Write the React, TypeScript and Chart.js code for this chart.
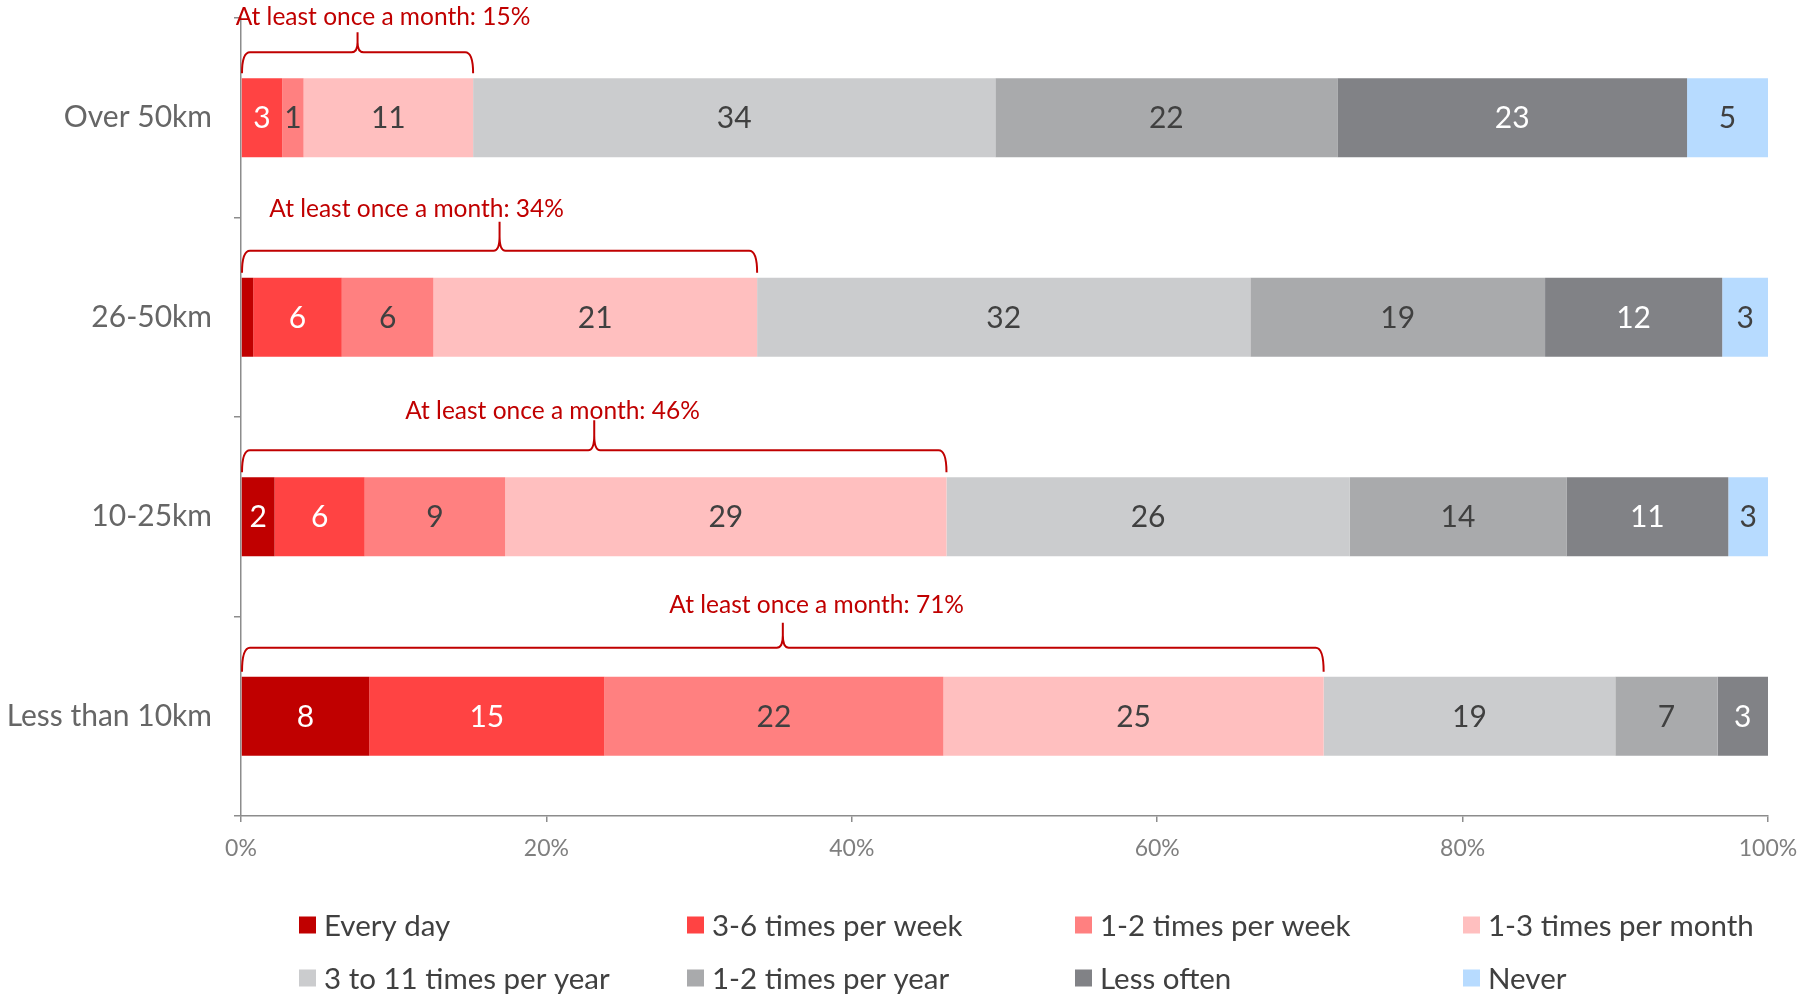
import { useEffect, useRef } from "react";
import { Chart, registerables } from "chart.js";

Chart.register(...registerables);

// ---------- data ----------
const categories = ["Over 50km", "26-50km", "10-25km", "Less than 10km"];
const seriesNames = [
  "Every day",
  "3-6 times per week",
  "1-2 times per week",
  "1-3 times per month",
  "3 to 11 times per year",
  "1-2 times per year",
  "Less often",
  "Never",
];
const everyDay = [0, 0.8, 2.2, 8.4];
const weekly36 = [2.7, 5.8, 5.9, 15.4];
const weekly12 = [1.4, 6.0, 9.2, 22.2];
const monthly13 = [11.1, 21.2, 28.9, 24.9];
const yearly311 = [34.2, 32.3, 26.4, 19.1];
const yearly12 = [22.4, 19.3, 14.2, 6.7];
const lessOften = [22.9, 11.6, 10.6, 3.3];
const never = [5.3, 3.0, 2.6, 0];
const seriesValues = [everyDay, weekly36, weekly12, monthly13, yearly311, yearly12, lessOften, never];
const xTickValues = [0, 20, 40, 60, 80, 100];
const monthlySeriesCount = 4; // first four series = at least once a month
const annotationPrefix = "At least once a month: ";

// ---------- styles ----------
const FONT = "Lato, 'Open Sans', sans-serif";
const seriesColors = ["#C00000", "#FF4343", "#FF8080", "#FFBFBF", "#CBCCCE", "#A9AAAC", "#818286", "#B7DBFF"];
const labelColors = ["#FFFFFF", "#FFFFFF", "#404040", "#404040", "#404040", "#404040", "#FFFFFF", "#404040"];
const braceColor = "#C00000";
// per-category annotation layout (pixels above bar top, and label centre in axis %)
const braceLabelCenter = [9.3, 11.5, 20.4, 37.7];
const braceLabelRise = [61, 69, 66, 72];
const braceLineRise = [26, 27, 27, 29];
const braceTipRise = [46, 56, 57, 54];
const braceEndRise = 5;

const dataLabelPlugin = {
  id: "dataLabels",
  afterDatasetsDraw(chart: any) {
    const ctx = chart.ctx;
    ctx.save();
    ctx.font = `30px ${FONT}`;
    ctx.textAlign = "center";
    ctx.textBaseline = "middle";
    chart.data.datasets.forEach((ds: any, i: number) => {
      const meta = chart.getDatasetMeta(i);
      meta.data.forEach((bar: any, j: number) => {
        const v = ds.data[j];
        if (v < 1) return;
        const p = bar.getProps(["x", "y", "base"], true);
        ctx.fillStyle = labelColors[i];
        ctx.fillText(String(Math.round(v)), (p.x + p.base) / 2, p.y + 1);
      });
    });
    ctx.restore();
  },
};

const bracePlugin = {
  id: "braces",
  afterDraw(chart: any) {
    const ctx = chart.ctx;
    const xs = chart.scales.x;
    const meta0 = chart.getDatasetMeta(0);
    ctx.save();
    categories.forEach((_c, j) => {
      let total = 0;
      for (let i = 0; i < monthlySeriesCount; i++) total += chart.data.datasets[i].data[j];
      const bar = meta0.data[j].getProps(["y", "height"], true);
      const top = bar.y - bar.height / 2;
      const x0 = xs.getPixelForValue(0) + 1;
      const x1 = xs.getPixelForValue(total);
      const xm = (x0 + x1) / 2;
      const yEnd = top - braceEndRise;
      const yLine = top - braceLineRise[j];
      const yTip = top - braceTipRise[j];
      const r = 8;
      const r2 = 6;
      const yMid = yLine - (yLine - yTip) * 0.5;
      ctx.strokeStyle = braceColor;
      ctx.lineWidth = 2;
      ctx.beginPath();
      ctx.moveTo(x0, yEnd);
      ctx.quadraticCurveTo(x0, yLine, x0 + r, yLine);
      ctx.lineTo(xm - r2, yLine);
      ctx.quadraticCurveTo(xm, yLine, xm, yMid);
      ctx.lineTo(xm, yTip);
      ctx.moveTo(xm, yMid);
      ctx.quadraticCurveTo(xm, yLine, xm + r2, yLine);
      ctx.lineTo(x1 - r, yLine);
      ctx.quadraticCurveTo(x1, yLine, x1, yEnd);
      ctx.stroke();
      ctx.fillStyle = braceColor;
      ctx.font = `24.5px ${FONT}`;
      ctx.textAlign = "center";
      ctx.textBaseline = "middle";
      ctx.fillText(annotationPrefix + Math.round(total) + "%", xs.getPixelForValue(braceLabelCenter[j]), top - braceLabelRise[j]);
    });
    ctx.restore();
  },
};

const legendPlugin = {
  id: "gridLegend",
  afterDraw(chart: any) {
    const ctx = chart.ctx;
    const left = chart.chartArea.left;
    const colStart = left + 58;
    const colStep = 388;
    const rowY = [925, 978];
    const box = 17;
    ctx.save();
    ctx.font = `29.5px ${FONT}`;
    ctx.textBaseline = "middle";
    ctx.textAlign = "left";
    chart.data.datasets.forEach((ds: any, i: number) => {
      const col = i % 4;
      const row = Math.floor(i / 4);
      const x = colStart + col * colStep;
      const y = rowY[row];
      ctx.fillStyle = ds.backgroundColor;
      ctx.fillRect(x, y - box / 2, box, box);
      ctx.fillStyle = "#404040";
      ctx.fillText(ds.label, x + box + 8, y + 1);
    });
    ctx.restore();
  },
};

export default function App() {
  const ref = useRef<HTMLCanvasElement | null>(null);
  useEffect(() => {
    document.body.style.margin = "0";
    const canvas = ref.current!;
    const chart = new Chart(canvas, {
      type: "bar",
      data: {
        labels: categories,
        datasets: seriesNames.map((name, i) => ({
          label: name,
          data: seriesValues[i],
          backgroundColor: seriesColors[i],
          borderWidth: 0,
          barPercentage: 0.395,
          categoryPercentage: 1.0,
        })),
      },
      options: {
        indexAxis: "y",
        responsive: false,
        animation: false,
        layout: { padding: { left: 0, right: 47, top: 18, bottom: 0 } },
        plugins: { legend: { display: false }, tooltip: { enabled: false } },
        scales: {
          x: {
            type: "linear",
            stacked: true,
            min: 0,
            max: 100,
            afterBuildTicks: (scale: any) => {
              scale.ticks = xTickValues.map((v) => ({ value: v }));
            },
            ticks: {
              callback: (v: any) => v + "%",
              color: "#7F7F7F",
              font: { family: FONT, size: 23 },
              padding: 13,
              maxRotation: 0,
            },
            grid: { drawOnChartArea: false, drawTicks: true, tickLength: 6, color: "#8C8C8C", lineWidth: 1.5 },
            border: { color: "#8C8C8C", width: 1.5 },
            afterFit: (scale: any) => {
              scale.height = 179;
              scale.paddingLeft = 0;
              scale.paddingRight = 0;
            },
          },
          y: {
            type: "category",
            stacked: true,
            grid: { offset: true, drawOnChartArea: false, drawTicks: true, tickLength: 7, color: "#8C8C8C", lineWidth: 1.5 },
            border: { color: "#8C8C8C", width: 1.5 },
            ticks: { color: "#666666", font: { family: FONT, size: 30 }, padding: 22 },
            afterFit: (scale: any) => {
              scale.width = 241;
              scale.paddingTop = 0;
              scale.paddingBottom = 0;
            },
          },
        },
      } as any,
      plugins: [dataLabelPlugin, bracePlugin, legendPlugin],
    });
    return () => chart.destroy();
  }, []);
  return (
    <div style={{ width: 1815, height: 995, overflow: "hidden", background: "#fff" }}>
      <canvas ref={ref} width={1815} height={995} style={{ display: "block" }} />
    </div>
  );
}
